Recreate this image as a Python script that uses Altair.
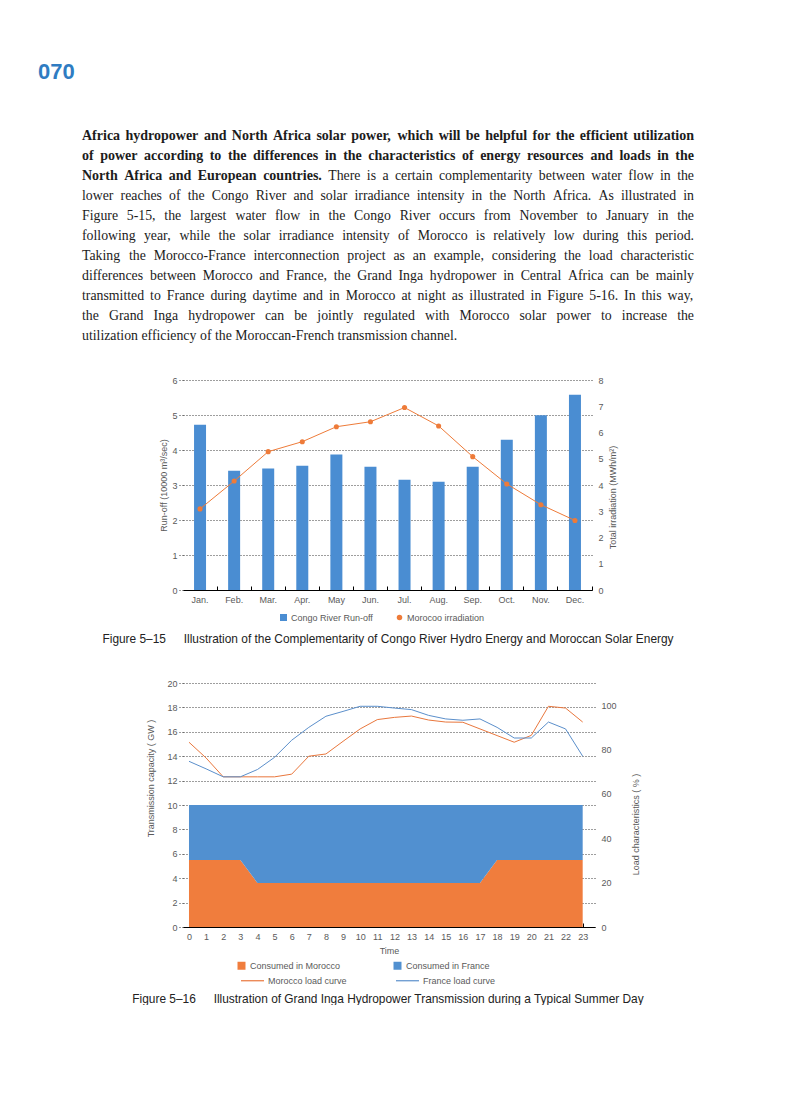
import altair as alt
import pandas as pd

# ---------------- data ----------------
months = ["Jan.", "Feb.", "Mar.", "Apr.", "May", "Jun.", "Jul.", "Aug.", "Sep.", "Oct.", "Nov.", "Dec."]
runoff = [4.72, 3.41, 3.47, 3.55, 3.87, 3.52, 3.15, 3.09, 3.52, 4.29, 4.99, 5.58]
irradiation = [3.09, 4.15, 5.27, 5.65, 6.22, 6.41, 6.95, 6.25, 5.08, 4.04, 3.25, 2.65]
runoff_name = "Congo River Run-off"
irradiation_name = "Morocoo irradiation"

hours = [0, 1, 2, 3, 4, 5, 6, 7, 8, 9, 10, 11, 12, 13, 14, 15, 16, 17, 18, 19, 20, 21, 22, 23]
morocco_gw = [5.5, 5.5, 5.5, 5.5, 3.6, 3.6, 3.6, 3.6, 3.6, 3.6, 3.6, 3.6,
              3.6, 3.6, 3.6, 3.6, 3.6, 3.6, 5.5, 5.5, 5.5, 5.5, 5.5, 5.5]
france_gw = [4.5, 4.5, 4.5, 4.5, 6.4, 6.4, 6.4, 6.4, 6.4, 6.4, 6.4, 6.4,
             6.4, 6.4, 6.4, 6.4, 6.4, 6.4, 4.5, 4.5, 4.5, 4.5, 4.5, 4.5]
morocco_load = [83.3, 76.2, 67.7, 67.7, 67.7, 67.7, 68.9, 77.0, 78.0, 83.7, 89.3, 93.5,
                94.5, 95.1, 93.3, 92.4, 92.3, 89.3, 86.3, 83.3, 86.4, 99.5, 98.7, 92.4]
france_load = [74.7, 71.3, 67.7, 67.7, 71.0, 76.5, 84.2, 90.0, 95.0, 97.2, 99.5, 99.5,
               98.7, 98.0, 95.4, 93.8, 93.2, 93.8, 90.0, 85.2, 85.2, 92.4, 89.3, 77.0]
area_names = ["Consumed in Morocco", "Consumed in France"]
load_names = ["Morocco load curve", "France load curve"]

page_number = "070"
paragraph_lines = [
    [("Africa hydropower and North Africa solar power, which will be helpful for the efficient utilization", True)],
    [("of power according to the differences in the characteristics of energy resources and loads in the", True)],
    [("North Africa and European countries.", True),
     ("There is a certain complementarity between water flow in the", False)],
    [("lower reaches of the Congo River and solar irradiance intensity in the North Africa. As illustrated in", False)],
    [("Figure 5-15, the largest water flow in the Congo River occurs from November to January in the", False)],
    [("following year, while the solar irradiance intensity of Morocco is relatively low during this period.", False)],
    [("Taking the Morocco-France interconnection project as an example, considering the load characteristic", False)],
    [("differences between Morocco and France, the Grand Inga hydropower in Central Africa can be mainly", False)],
    [("transmitted to France during daytime and in Morocco at night as illustrated in Figure 5-16. In this way,", False)],
    [("the Grand Inga hydropower can be jointly regulated with Morocco solar power to increase the", False)],
    [("utilization efficiency of the Moroccan-French transmission channel.", False)],
]
caption_1 = "Figure 5\u201315\u2003\u2002Illustration of the Complementarity of Congo River Hydro Energy and Moroccan Solar Energy"
caption_2 = "Figure 5\u201316\u2003\u2002Illustration of Grand Inga Hydropower Transmission during a Typical Summer Day"

# ---------------- styles / layout ----------------
FONT = "Liberation Sans"
SERIF = "Liberation Serif"
LABEL = "#5a5a5a"
GRID = "#3c3c3c"
BLUE = "#4a8dd2"
ORANGE = "#ee7b39"
AREA_BLUE = "#5190d0"
AREA_ORANGE = "#f07d3d"
LINE_BLUE = "#5b8fcb"
LINE_ORANGE = "#e9773d"
TEXT = "#1c1c1c"

OX, OY = 183, 277          # page position of the text panel origin
W1, H1 = 409, 210
W2, H2 = 412, 244
SPACING = 93

# --- Times metrics (for justification of the paragraph) ---
_lc = "abcdefghijklmnopqrstuvwxyz"
_uc = "ABCDEFGHIJKLMNOPQRSTUVWXYZ"
TR = dict(zip(_lc, [444, 500, 444, 500, 444, 333, 500, 500, 278, 278, 500, 278, 778, 500, 500, 500, 500, 333, 389, 278, 500, 500, 722, 500, 500, 444]))
TR.update(zip(_uc, [722, 667, 667, 722, 611, 556, 722, 722, 333, 389, 722, 611, 889, 722, 722, 556, 722, 667, 556, 611, 722, 722, 944, 722, 722, 611]))
TB = dict(zip(_lc, [500, 556, 444, 556, 444, 333, 500, 556, 278, 333, 556, 278, 833, 556, 500, 556, 556, 444, 389, 333, 556, 500, 722, 500, 500, 444]))
TB.update(zip(_uc, [722, 667, 722, 722, 667, 611, 778, 778, 389, 500, 778, 667, 944, 722, 778, 611, 778, 722, 556, 667, 722, 722, 1000, 722, 722, 667]))
for t in (TR, TB):
    t.update({",": 250, ".": 250, "-": 333, " ": 250})
    t.update({d: 500 for d in "0123456789"})

FS_BOLD = 14.0
FS_REG = 13.8
TEXT_LEFT, TEXT_W = 82, 612
BASE0, LEAD = 140, 20


def word_width(w, bold):
    tab = TB if bold else TR
    fs = FS_BOLD if bold else FS_REG
    return sum(tab.get(c, 500) for c in w) / 1000.0 * fs


rows = []
for i, line in enumerate(paragraph_lines):
    words = []
    for seg, b in line:
        for w in seg.split():
            words.append((w, b))
    widths = [word_width(w, b) for w, b in words]
    if i == len(paragraph_lines) - 1:
        gap = 0.25 * FS_REG
    else:
        gap = max(1.5, (TEXT_W - sum(widths)) / (len(words) - 1))
    x = TEXT_LEFT
    for (w, b), wd in zip(words, widths):
        rows.append({"word": w, "bold": b, "px": x - OX, "py": BASE0 + LEAD * i - OY})
        x += wd + gap
words_df = pd.DataFrame(rows)

px_enc = alt.X("px:Q", scale=None, axis=None)
py_enc = alt.Y("py:Q", scale=None, axis=None)

bold_text = alt.Chart(words_df[words_df["bold"]]).mark_text(
    font=SERIF, fontWeight="bold", fontSize=FS_BOLD, align="left", baseline="alphabetic", color=TEXT
).encode(x=px_enc, y=py_enc, text="word:N")
reg_text = alt.Chart(words_df[~words_df["bold"]]).mark_text(
    font=SERIF, fontSize=FS_REG, align="left", baseline="alphabetic", color=TEXT
).encode(x=px_enc, y=py_enc, text="word:N")

num_df = pd.DataFrame({"t": [page_number], "px": [38 - OX], "py": [79 - OY]})
num_text = alt.Chart(num_df).mark_text(
    font=FONT, fontWeight="bold", fontSize=22, align="left", baseline="alphabetic", color="#2f7cc2"
).encode(x=px_enc, y=py_enc, text="t:N")

cap_df = pd.DataFrame({"t": [caption_1, caption_2],
                       "px": [388 - OX, 388 - OX], "py": [643 - OY, 1003 - OY]})
cap_text = alt.Chart(cap_df).mark_text(
    font=FONT, fontSize=11.9, align="center", baseline="alphabetic", color="#222222"
).encode(x=px_enc, y=py_enc, text="t:N")

anchor = alt.Chart(pd.DataFrame({"a": [0]})).mark_rule(opacity=0, strokeWidth=0.01).encode(
    x=alt.value(8 - OX), x2=alt.value(8 - OX), y=alt.value(8 - OY), y2=alt.value(8 - OY)
)

text_panel = alt.layer(anchor, num_text, bold_text, reg_text, cap_text).properties(width=W1, height=10)

# ---------------- Figure 5-15 ----------------
df1 = pd.DataFrame({"month": months, "runoff": runoff, "irr": irradiation,
                    "s1": [runoff_name] * len(months), "s2": [irradiation_name] * len(months)})
xs1 = alt.Scale(domain=months, paddingInner=0, paddingOuter=0)

bars = alt.Chart(df1).mark_bar(size=12).encode(
    x=alt.X("month:N", scale=xs1,
            axis=alt.Axis(orient="top", offset=-H1, bandPosition=1, labels=False, ticks=True, tickSize=4,
                          tickColor="#000000", domain=True, domainColor="#000000", grid=False, title=None)),
    y=alt.Y("runoff:Q", scale=alt.Scale(domain=[0, 6], nice=False),
            axis=alt.Axis(orient="left", values=[0, 1, 2, 3, 4, 5, 6], grid=True, gridDash=[1, 2], gridColor=GRID,
                          domain=False, ticks=True, tickSize=4, tickDash=[1, 2], tickColor=GRID, labelPadding=2,
                          title="Run-off (10000 m\u00b3/sec)", titleX=-20, titleY=H1 / 2, titleAngle=270,
                          titleBaseline="middle")),
    fill=alt.Fill("s1:N", scale=alt.Scale(domain=[runoff_name], range=[BLUE]),
                  legend=alt.Legend(orient="none", legendX=96, legendY=233, title=None, symbolType="square",
                                    symbolSize=49, symbolStrokeWidth=0, labelOffset=3)),
)
line1 = alt.Chart(df1).mark_line(color=ORANGE, strokeWidth=1).encode(
    x=alt.X("month:N", scale=xs1,
            axis=alt.Axis(orient="bottom", ticks=False, tickSize=0, domain=False, grid=False, title=None,
                          labelAngle=0, labelPadding=5)),
    y=alt.Y("irr:Q", scale=alt.Scale(domain=[0, 8], nice=False),
            axis=alt.Axis(orient="right", values=[0, 1, 2, 3, 4, 5, 6, 7, 8], grid=False, domain=False, ticks=False,
                          labelPadding=6, title="Total irradiation (MWh/m\u00b2)", titleX=20, titleY=117,
                          titleAngle=270, titleBaseline="middle")),
)
pts1 = alt.Chart(df1).mark_point(filled=True, size=26, opacity=1).encode(
    x=alt.X("month:N", scale=xs1, axis=None),
    y=alt.Y("irr:Q", scale=alt.Scale(domain=[0, 8], nice=False), axis=None),
    color=alt.Color("s2:N", scale=alt.Scale(domain=[irradiation_name], range=[ORANGE]),
                    legend=alt.Legend(orient="none", legendX=212, legendY=233, title=None, symbolType="circle",
                                      symbolSize=30, labelOffset=3)),
)
chart1 = alt.layer(bars, line1, pts1).resolve_scale(y="independent").resolve_axis(
    x="independent", y="independent").properties(width=W1, height=H1)

# ---------------- Figure 5-16 ----------------
area_df = pd.DataFrame({"hour": hours + hours, "gw": morocco_gw + france_gw,
                        "series": [area_names[0]] * len(hours) + [area_names[1]] * len(hours),
                        "ord": [0] * len(hours) + [1] * len(hours)})
load_df = pd.DataFrame({"hour": hours + hours, "pct": morocco_load + france_load,
                        "series": [load_names[0]] * len(hours) + [load_names[1]] * len(hours)})
xs2 = alt.Scale(domain=[-0.35, 23.72], nice=False, zero=False)

area = alt.Chart(area_df).mark_area(opacity=1, interpolate="linear").encode(
    x=alt.X("hour:Q", scale=xs2,
            axis=alt.Axis(orient="top", offset=-H2, values=hours, labels=False, ticks=True, tickSize=4,
                          tickColor="#000000", domain=True, domainColor="#000000", grid=False, title=None)),
    y=alt.Y("gw:Q", stack="zero", scale=alt.Scale(domain=[0, 20], nice=False),
            axis=alt.Axis(orient="left", values=[0, 2, 4, 6, 8, 10, 12, 14, 16, 18, 20], grid=True, gridDash=[1, 2],
                          gridColor=GRID, domain=False, ticks=True, tickSize=4, tickDash=[1, 2], tickColor=GRID,
                          labelPadding=2, title="Transmission capacity ( GW )", titleX=-33, titleY=95,
                          titleAngle=270, titleBaseline="middle")),
    fill=alt.Fill("series:N", scale=alt.Scale(domain=area_names, range=[AREA_ORANGE, AREA_BLUE]),
                  legend=alt.Legend(orient="none", legendX=54, legendY=278, direction="horizontal", title=None,
                                    symbolType="square", symbolSize=64, symbolStrokeWidth=0, columnPadding=52,
                                    labelOffset=4)),
    order=alt.Order("ord:Q", sort="ascending"),
)
loads = alt.Chart(load_df).mark_line(strokeWidth=1).encode(
    x=alt.X("hour:Q", scale=xs2,
            axis=alt.Axis(orient="bottom", values=hours, ticks=False, tickSize=0, domain=False, grid=False,
                          labelPadding=5, labelFlush=False, labelOverlap=False, title="Time", titlePadding=5)),
    y=alt.Y("pct:Q", scale=alt.Scale(domain=[0, 110], nice=False),
            axis=alt.Axis(orient="right", values=[0, 20, 40, 60, 80, 100], grid=False, domain=False, ticks=False,
                          labelPadding=6, title="Load characteristics ( % )", titleX=40, titleY=141,
                          titleAngle=270, titleBaseline="middle")),
    stroke=alt.Stroke("series:N", scale=alt.Scale(domain=load_names, range=[LINE_ORANGE, LINE_BLUE]),
                      legend=alt.Legend(orient="none", legendX=57, legendY=285, direction="horizontal", title=None,
                                        symbolType="stroke", symbolSize=529, symbolStrokeWidth=1.2,
                                        columnPadding=46, labelOffset=3)),
    detail="series:N",
)
chart2 = alt.layer(area, loads).resolve_scale(y="independent").resolve_axis(
    x="independent", y="independent").properties(width=W2, height=H2)

page = alt.vconcat(text_panel, chart1, chart2, spacing=SPACING, bounds="flush").resolve_scale(
    fill="independent", stroke="independent", color="independent"
).properties(
    padding=0
).configure_view(strokeWidth=0).configure_axis(
    labelFont=FONT, labelFontSize=9, labelColor=LABEL, titleFont=FONT, titleFontSize=9,
    titleFontWeight="normal", titleColor=LABEL
).configure_legend(
    labelFont=FONT, labelFontSize=9, labelColor=LABEL, padding=0
)

page.save("out.html", embed_options={"renderer": "svg", "actions": False})
